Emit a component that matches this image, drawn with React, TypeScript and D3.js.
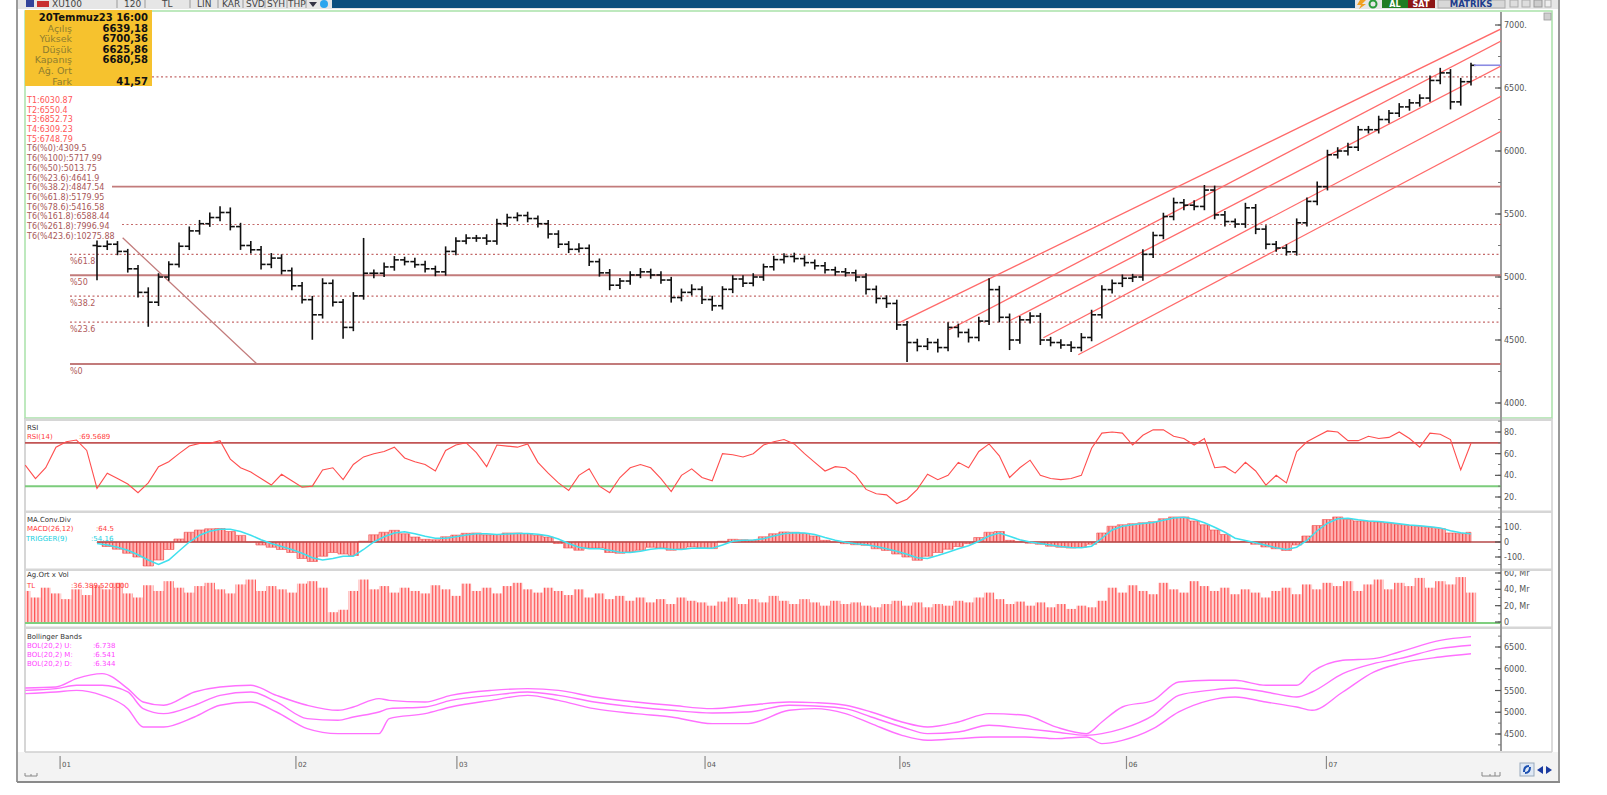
import React from "react";
import * as d3 from "d3";

// ---------- DATA ----------
const firstOpen = 5250;
const closes = [
  5244, 5260, 5203, 5065, 4878, 4800, 5000, 5100, 5244, 5366,
  5423, 5472, 5512, 5400, 5250, 5216, 5100, 5150, 5050, 4930,
  4820, 4700, 4950, 4800, 4600, 4850, 5030, 5030, 5080, 5136,
  5122, 5098, 5065, 5041, 5203, 5285, 5309, 5309, 5285, 5423,
  5472, 5488, 5464, 5423, 5341, 5260, 5220, 5228, 5122, 5033,
  4935, 4968, 5016, 5041, 5016, 4976, 4837, 4878, 4902, 4821,
  4772, 4902, 4984, 4951, 5000, 5081, 5138, 5163, 5146, 5114,
  5089, 5057, 5041, 5033, 5000, 4902, 4830, 4790, 4620, 4480,
  4450, 4480, 4440, 4600, 4560, 4520, 4650, 4900, 4680, 4500,
  4660, 4690, 4500, 4480, 4460, 4440, 4520, 4700, 4900, 4950,
  4990, 5000, 5180, 5330, 5480, 5590, 5570, 5560, 5690, 5493,
  5440, 5420, 5549, 5380, 5260, 5230, 5200, 5430, 5600, 5717,
  5970, 6000, 6030, 6169, 6169, 6250, 6300, 6350, 6382, 6420,
  6560, 6620, 6390, 6550, 6680,
];
const wickHi = [
  40, 30, 25, 20, 30, 40, 30, 25, 30, 35,
  30, 40, 50, 40, 30, 35, 30, 40, 30, 25,
  30, 30, 40, 30, 25, 30, 280, 30, 35, 30,
  25, 30, 30, 25, 40, 30, 30, 25, 30, 40,
  30, 25, 30, 25, 30, 30, 25, 40, 30, 25,
  30, 25, 30, 30, 25, 30, 25, 30, 40, 25,
  30, 25, 30, 30, 30, 25, 30, 25, 30, 25,
  25, 30, 25, 30, 25, 30, 30, 25, 30, 30,
  30, 35, 30, 40, 30, 30, 35, 90, 30, 30,
  30, 30, 25, 25, 25, 30, 35, 40, 35, 30,
  30, 25, 40, 30, 30, 40, 30, 40, 40, 35,
  30, 25, 40, 30, 30, 25, 30, 35, 30, 40,
  40, 30, 35, 30, 30, 30, 25, 30, 30, 30,
  40, 40, 30, 30, 20,
];
const wickLo = [
  270, 30, 30, 30, 40, 195, 30, 30, 25, 30,
  30, 25, 30, 30, 35, 30, 40, 30, 30, 35,
  30, 198, 30, 35, 90, 30, 30, 40, 30, 30,
  30, 25, 30, 35, 30, 30, 25, 30, 30, 30,
  25, 30, 30, 30, 35, 30, 30, 25, 35, 30,
  40, 30, 30, 25, 30, 30, 40, 30, 25, 35,
  40, 30, 30, 30, 25, 30, 30, 30, 30, 30,
  30, 30, 30, 30, 35, 40, 40, 35, 40, 155,
  40, 30, 40, 30, 40, 40, 30, 30, 40, 80,
  30, 30, 40, 30, 30, 35, 30, 30, 30, 30,
  30, 30, 30, 30, 30, 30, 40, 30, 30, 35,
  40, 30, 30, 40, 40, 30, 30, 30, 30, 30,
  30, 30, 35, 30, 30, 30, 30, 30, 30, 30,
  30, 30, 60, 30, 30,
];

// lower panels start 7 bars before the first price bar
const lowerStart = -7;
const rsi = [
  49.5, 37, 47, 66, 71, 72.6, 63,
  28, 42, 37, 32, 24, 33, 48, 52.6, 60, 67,
  69.5, 69.5, 72, 55, 47, 43, 37, 31, 41, 35,
  29, 30, 45, 47, 36, 50, 57, 60, 62, 66,
  56, 52.6, 50, 44, 63, 68, 70, 61, 48, 68,
  67, 66, 69, 52, 42, 33, 26, 40, 46, 30,
  24, 38, 47, 50, 47, 37, 25, 40, 46, 38,
  35, 60, 59, 57, 60, 68, 71, 73, 69, 60,
  52, 44, 48, 47, 40, 27, 23, 22, 14, 18,
  27, 41, 36, 40, 52, 47, 62, 69, 58, 38,
  47, 54, 40, 37, 36, 37, 40, 65, 79, 80,
  79, 68, 77, 82, 82, 76, 74, 68, 74, 47,
  48, 42, 52, 44, 31, 40, 33, 62, 71, 76,
  81, 80, 72, 72, 76, 74, 75, 80, 74, 66,
  79, 78, 73, 45, 69.57,
];
const macd = [
  -5, -30, -48, -75, -100, -160, -120, -50, 20, 65,
  80, 88, 90, 70, 44, 0, -20, -35, -50, -70,
  -110, -130, -95, -70, -80, -90, 5, 48, 65, 78,
  55, 33, 18, 15, 35, 46, 58, 60, 48, 50,
  60, 60, 56, 45, 33, -10, -40, -55, -40, -40,
  -70, -75, -65, -55, -35, -40, -55, -45, -33, -40,
  -44, 5, 18, 15, 12, 35, 55, 67, 65, 57,
  40, 11, 0, -11, -18, -22, -45, -56, -80, -100,
  -122, -95, -70, -48, -30, -11, 30, 65, 70, 11,
  2, -8, -15, -28, -35, -40, -35, -15, 60, 105,
  115, 122, 128, 135, 155, 167, 167, 140, 115, 80,
  50, 0, 3, -15, -33, -45, -56, -20, 40, 110,
  150, 167, 150, 140, 138, 133, 125, 116, 110, 104,
  98, 89, 60, 56, 64.5,
];
const trigger = [
  -10, -20, -35, -55, -85, -120, -150, -120, -60, 0,
  45, 72, 85, 85, 70, 45, 15, -10, -30, -50,
  -75, -105, -120, -110, -95, -95, -50, 0, 35, 60,
  68, 55, 38, 25, 25, 35, 46, 55, 55, 50,
  53, 57, 57, 52, 42, 20, -10, -35, -45, -45,
  -55, -68, -70, -62, -48, -42, -48, -50, -42, -40,
  -42, -20, 5, 12, 13, 22, 40, 55, 62, 60,
  50, 30, 12, -2, -12, -18, -30, -45, -62, -82,
  -105, -110, -90, -68, -45, -25, 5, 40, 60, 38,
  15, 0, -10, -20, -30, -37, -38, -28, 25, 80,
  105, 115, 124, 130, 145, 160, 165, 152, 128, 98,
  65, 25, 10, -5, -22, -38, -50, -35, 10, 75,
  125, 155, 158, 148, 140, 136, 130, 122, 114, 108,
  101, 94, 75, 62, 54.16,
];
const volume = [
  38, 30, 42, 35, 28, 40, 33,
  45, 40, 48, 35, 30, 45, 38, 50, 42, 36,
  44, 48, 40, 35, 46, 52, 38, 44, 40, 36,
  47, 50, 42, 12, 15, 38, 52, 40, 44, 36,
  42, 38, 35, 45, 40, 32, 47, 38, 42, 35,
  44, 48, 40, 36, 42, 38, 33, 40, 30, 35,
  28, 32, 26, 30, 24, 28, 22, 30, 26, 24,
  20, 25, 30, 22, 28, 24, 32, 26, 22, 28,
  24, 20, 26, 22, 24, 20, 18, 22, 26, 20,
  24, 18, 22, 20, 26, 24, 30, 36, 28, 22,
  25, 20, 24, 18, 22, 16, 20, 18, 26, 42,
  36, 45, 38, 34, 48, 40, 36, 50, 44, 38,
  42, 34, 40, 36, 30, 38, 42, 34, 46, 40,
  48, 44, 50, 38, 46, 52, 40, 48, 44, 54,
  42, 50, 46, 55, 36,
];
const bolT = [
  -7, -4, -2, 0.5, 3, 4.5, 6.5, 9.5, 12, 15,
  17.5, 20.5, 23.5, 25, 27.5, 28.5, 32, 34.5, 38.5, 42,
  45, 48.5, 52.5, 56, 60, 63.5, 67.5, 70, 73, 75.5,
  78.5, 81, 84, 87, 90.5, 93.5, 96.5, 98, 100, 103,
  105.5, 108.5, 111, 114, 117, 118.5, 121.5, 124.5, 127, 131,
  134,
];
const bolU = [
  5558, 5581, 5772, 5887, 5543, 5236, 5160, 5466, 5581, 5619,
  5389, 5160, 5045, 5121, 5313, 5274, 5236, 5389, 5504, 5543,
  5504, 5351, 5236, 5160, 5083, 5160, 5236, 5221, 5160, 5006,
  4777, 4662, 4777, 4968, 4930, 4662, 4508, 4777, 5121, 5274,
  5696, 5734, 5734, 5619, 5619, 5925, 6194, 6232, 6385, 6653,
  6738,
];
const bolM = [
  5504, 5543, 5619, 5619, 5466, 5083, 4968, 5160, 5389, 5466,
  5236, 4853, 4815, 4891, 5006, 5083, 5121, 5274, 5389, 5466,
  5389, 5236, 5121, 5045, 4984, 5006, 5160, 5144, 5083, 4891,
  4662, 4508, 4547, 4700, 4623, 4547, 4470, 4508, 4623, 4930,
  5389, 5504, 5558, 5466, 5351, 5466, 5887, 6117, 6232, 6462,
  6541,
];
const bolD = [
  5428, 5466, 5504, 5389, 5083, 4662, 4662, 4891, 5160, 5236,
  5006, 4623, 4508, 4508, 4508, 4853, 4968, 5121, 5274, 5389,
  5274, 5083, 4968, 4891, 4738, 4738, 5045, 5083, 4968, 4738,
  4470, 4355, 4393, 4432, 4432, 4393, 4432, 4279, 4355, 4623,
  5006, 5274, 5351, 5236, 5121, 5045, 5466, 5925, 6117, 6270,
  6344,
];

// trend lines (T3, T5, T2, T4, T1): start bar, start value, value at last bar
const channelStartIdx = [78.3, 83.1, 89, 92.3, 95.7];
const channelStartVal = [4640, 4581, 4653, 4518, 4383];
const channelEndVal = [6852.73, 6748.79, 6550.4, 6309.23, 6030.87];
const diagStart = { idx: 2.5, val: 5311 };
const diagEnd = { idx: 15.6, val: 4309.5 };

const fibNames = ["%0", "%23.6", "%38.2", "%50", "%61.8", "%78.6", "%100", "%161.8"];
const fibValues = [4309.5, 4641.9, 4847.54, 5013.75, 5179.95, 5416.58, 5717.99, 6588.44];
const fibShownLabels = ["%61.8", "%50", "%38.2", "%23.6", "%0"];

const tLabels = [
  "T1:6030.87", "T2:6550.4", "T3:6852.73", "T4:6309.23", "T5:6748.79",
  "T6(%0):4309.5", "T6(%100):5717.99", "T6(%50):5013.75", "T6(%23.6):4641.9",
  "T6(%38.2):4847.54", "T6(%61.8):5179.95", "T6(%78.6):5416.58",
  "T6(%161.8):6588.44", "T6(%261.8):7996.94", "T6(%423.6):10275.88",
];
const infoTitle = "20Temmuz23 16:00";
const infoLabels = ["Açılış", "Yüksek", "Düşük", "Kapanış", "Ağ. Ort", "Fark"];
const infoValues = ["6639,18", "6700,36", "6625,86", "6680,58", "", "41,57"];
const lastClose = 6680.58;

const monthLabels = ["01", "02", "03", "04", "05", "06", "07"];
const monthIdx = [-3.6, 19.4, 35.1, 59.3, 78.3, 100.4, 119.9];

const priceTicks = [4000, 4500, 5000, 5500, 6000, 6500, 7000];
const rsiTicks = [20, 40, 60, 80];
const macdTicks = [-100, 0, 100];
const volTicks = [0, 20, 40, 60];
const bolTicks = [4500, 5000, 5500, 6000, 6500];

const toolbarItems = ["XU100", "120", "TL", "LIN", "KAR", "SVD", "SYH", "THP"];

const FONT = "DejaVu Sans, Verdana, sans-serif";

export default function App() {
  const AX = 1501; // right axis x
  const LEFT = 25;
  const RIGHT = 1552;
  const x = d3.scaleLinear().domain([0, 134]).range([97, 1471]);
  const slot = x(1) - x(0);
  const yMain = d3.scaleLinear().domain([4000, 7000]).range([403, 25]);
  const yRsi = d3.scaleLinear().domain([20, 80]).range([497, 432]);
  const yMacd = d3.scaleLinear().domain([-100, 100]).range([557, 527]);
  const yVol = d3.scaleLinear().domain([0, 60]).range([622, 573]);
  const yBol = d3.scaleLinear().domain([4500, 6500]).range([734, 647]);

  const panels = {
    main: [12, 418],
    rsi: [420, 510],
    macd: [513, 568],
    vol: [571, 626],
    bol: [629, 751],
  } as Record<string, number[]>;

  const rsiLine = d3.line<number>().x((_, j) => x(j + lowerStart)).y((d) => yRsi(d));
  const trigLine = d3.line<number>().x((_, i) => x(i)).y((d) => yMacd(d));
  const macdArea = d3
    .area<number>()
    .x((_, i) => x(i))
    .y0(yMacd(0))
    .y1((d) => yMacd(d))
    .curve(d3.curveStep);
  const bolLine = (arr: number[]) =>
    d3
      .line<number>()
      .x((_, k) => x(bolT[k]))
      .y((d) => yBol(d))
      .curve(d3.curveMonotoneX)(arr) || "";

  const axisEndIdx = x.invert(AX);

  const fibStartX = (name: string) => {
    if (name === "%161.8") return 152;
    if (name === "%100") return 112;
    if (name === "%78.6") return 122;
    return 70;
  };
  const fibSolid = (name: string) => name === "%0" || name === "%50" || name === "%100";

  const axisTicks = (
    ticks: number[],
    scale: d3.ScaleLinear<number, number>,
    minorStep: number,
    fmt: (v: number) => string,
    key: string
  ) => {
    const [d0, d1] = scale.domain();
    const lo = d0 - minorStep * 4;
    const hi = d1 + minorStep * 4;
    const minors = d3.range(Math.ceil(lo / minorStep) * minorStep, hi + 0.001, minorStep);
    return (
      <g key={key}>
        {minors.map((v) => (
          <line key={"m" + v} x1={AX - 3} x2={AX} y1={scale(v)} y2={scale(v)} stroke="#777" strokeWidth={1} />
        ))}
        {ticks.map((v) => (
          <g key={"t" + v}>
            <line x1={AX - 6} x2={AX} y1={scale(v)} y2={scale(v)} stroke="#555" strokeWidth={1.2} />
            <text x={AX + 3} y={scale(v) + 3} fontSize={8} fill="#555" fontFamily={FONT}>
              {fmt(v)}
            </text>
          </g>
        ))}
      </g>
    );
  };

  return (
    <svg
      width={1607}
      height={795}
      style={{ position: "absolute", left: 0, top: 0, background: "#fff" }}
      fontFamily={FONT}
    >
      <defs>
        {Object.entries(panels).map(([k, [t, b]]) => (
          <clipPath id={"clip-" + k} key={k}>
            <rect x={LEFT} y={t} width={AX - LEFT} height={b - t} />
          </clipPath>
        ))}
        {Object.entries(panels).map(([k, [t, b]]) => (
          <clipPath id={"clipax-" + k} key={"a" + k}>
            <rect x={AX - 10} y={t} width={RIGHT - AX + 10} height={b - t} />
          </clipPath>
        ))}
        <pattern id="hatch" width={3.4} height={10} patternUnits="userSpaceOnUse">
          <rect width={3.4} height={10} fill="#ffb4b4" />
          <rect width={1.1} height={10} fill="#f04848" />
        </pattern>
        <pattern id="volhatch" width={3.4} height={10} patternUnits="userSpaceOnUse">
          <rect width={3.4} height={10} fill="#ffd6d6" />
          <rect width={1.2} height={10} fill="#ff4f4f" />
        </pattern>
      </defs>

      {/* window frame */}
      <rect x={17} y={0} width={1542} height={782} fill="#fff" />
      <line x1={17} x2={17} y1={0} y2={782} stroke="#9a9a9a" strokeWidth={2} />
      <line x1={1559} x2={1559} y1={0} y2={782} stroke="#9a9a9a" strokeWidth={2} />
      <line x1={17} x2={1560} y1={782} y2={782} stroke="#8a8a8a" strokeWidth={2} />

      {/* toolbar */}
      <rect x={18} y={0} width={1540} height={9} fill="#e6e6e6" />
      <rect x={26} y={0} width={8} height={7} fill="#33449a" />
      <rect x={37} y={1} width={12} height={6} fill="#c83030" />
      {[117, 145, 190, 218, 243, 265, 287, 306].map((sx) => (
        <line key={sx} x1={sx} x2={sx} y1={0} y2={8} stroke="#9a9a9a" />
      ))}
      {toolbarItems.map((t, k) => (
        <text
          key={t}
          x={[52, 124, 162, 197, 222, 246, 267, 288][k]}
          y={6.5}
          fontSize={9}
          fill="#444"
        >
          {t}
        </text>
      ))}
      <path d="M309,2 L317,2 L313,7 Z" fill="#334" />
      <circle cx={324} cy={4} r={4} fill="#2aa5ee" />
      <rect x={332} y={0} width={1023} height={8} fill="#0c4f7e" />
      <path d="M1360,0 L1366,0 L1362,4 L1366,4 L1359,9 L1361,5 L1357,5 Z" fill="#f0a020" />
      <circle cx={1373} cy={4} r={3.5} fill="none" stroke="#2a9a3a" strokeWidth={2} />
      <rect x={1382} y={0} width={26} height={8} fill="#1f7d22" />
      <text x={1395} y={7} fontSize={8} fill="#fff" fontWeight="bold" textAnchor="middle">AL</text>
      <rect x={1408} y={0} width={27} height={8} fill="#8d1616" />
      <text x={1421} y={7} fontSize={8} fill="#fff" fontWeight="bold" textAnchor="middle">SAT</text>
      <rect x={1438} y={0} width={67} height={8} fill="#d8d8d8" stroke="#aaa" />
      <text x={1471} y={7} fontSize={8.5} fill="#203c8c" fontWeight="bold" textAnchor="middle">MATRIKS</text>
      <rect x={1510} y={0} width={8} height={7} fill="#ddd" stroke="#aaa" />
      <rect x={1522} y={0} width={8} height={7} fill="#ddd" stroke="#aaa" />
      <rect x={1534} y={0} width={8} height={7} fill="#ccc" stroke="#999" />
      <rect x={1545} y={0} width={6} height={7} fill="#eee" stroke="#aaa" />

      {/* panel borders and separators */}
      <rect x={LEFT} y={11} width={RIGHT - LEFT} height={407} fill="none" stroke="#a9e2a9" strokeWidth={1.5} />
      <line x1={LEFT} x2={LEFT} y1={418} y2={752} stroke="#c8c8c8" strokeWidth={1.5} />
      <line x1={RIGHT} x2={RIGHT} y1={418} y2={752} stroke="#cfcfcf" strokeWidth={1.5} />
      {[419.5, 511.5, 569.5, 627.5].map((sy) => (
        <rect key={sy} x={LEFT} y={sy - 1} width={RIGHT - LEFT} height={2.5} fill="#d6d6d6" />
      ))}
      <rect x={RIGHT - 8} y={13} width={7} height={7} fill="#cfcfcf" stroke="#999" strokeWidth={0.8} />
      {/* right axis line */}
      <line x1={AX} x2={AX} y1={12} y2={751} stroke="#9a9a9a" strokeWidth={2} />

      {/* ---------- MAIN PANEL ---------- */}
      <g clipPath="url(#clip-main)">
        {fibNames.map((n, k) => (
          <line
            key={n}
            x1={fibStartX(n)}
            x2={AX}
            y1={yMain(fibValues[k])}
            y2={yMain(fibValues[k])}
            stroke={fibSolid(n) ? "#c27b7b" : "#c46a6a"}
            strokeWidth={fibSolid(n) ? 1.8 : 1.2}
            strokeDasharray={fibSolid(n) ? undefined : "2,2.5"}
          />
        ))}
        <line
          x1={x(diagStart.idx)}
          y1={yMain(diagStart.val)}
          x2={x(diagEnd.idx)}
          y2={yMain(diagEnd.val)}
          stroke="#c27b7b"
          strokeWidth={1.3}
        />
        {channelStartIdx.map((si, k) => {
          const slope = (channelEndVal[k] - channelStartVal[k]) / (134 - si);
          const endVal = channelEndVal[k] + slope * (axisEndIdx - 134);
          return (
            <line
              key={k}
              x1={x(si)}
              y1={yMain(channelStartVal[k])}
              x2={AX}
              y2={yMain(endVal)}
              stroke="#ff6a6a"
              strokeWidth={1.3}
            />
          );
        })}
        {closes.map((c, i) => {
          const o = i === 0 ? firstOpen : closes[i - 1];
          const hi = Math.max(o, c) + wickHi[i];
          const lo = Math.min(o, c) - wickLo[i];
          const cx = x(i);
          return (
            <g key={i} stroke="#101010" strokeWidth={1.6}>
              <line x1={cx} x2={cx} y1={yMain(hi)} y2={yMain(lo)} />
              <line x1={cx - 4.5} x2={cx} y1={yMain(o)} y2={yMain(o)} />
              <line x1={cx} x2={cx + 4.5} y1={yMain(c)} y2={yMain(c)} />
            </g>
          );
        })}
        <line
          x1={x(134) + 3}
          x2={AX}
          y1={yMain(lastClose)}
          y2={yMain(lastClose)}
          stroke="#8b8be3"
          strokeWidth={1.6}
        />
      </g>
      {fibNames
        .map((n, k) => ({ n, v: fibValues[k] }))
        .filter((d) => fibShownLabels.includes(d.n))
        .map((d) => (
          <text key={d.n} x={70} y={yMain(d.v) + 10} fontSize={8} fill="#b05a5a">
            {d.n}
          </text>
        ))}
      <g clipPath="url(#clipax-main)">
        {axisTicks(priceTicks, yMain, 250, (v) => v + ".", "pa")}
      </g>

      {/* info box */}
      <rect x={25} y={10} width={127} height={76} fill="#f6c22e" />
      <text x={148} y={20.5} fontSize={10} fontWeight="bold" textAnchor="end" fill="#111">
        {infoTitle}
      </text>
      {infoLabels.map((l, k) => (
        <g key={l}>
          <text x={72} y={31.5 + k * 10.6} fontSize={9.5} textAnchor="end" fill="#8f7d2e">
            {l}
          </text>
          <text x={148} y={31.5 + k * 10.6} fontSize={10} fontWeight="bold" textAnchor="end" fill="#111">
            {infoValues[k]}
          </text>
        </g>
      ))}
      {tLabels.map((t, k) => (
        <text key={t} x={27} y={103 + k * 9.69} fontSize={8} fill={k < 5 ? "#ff5656" : "#a85858"}>
          {t}
        </text>
      ))}

      {/* ---------- RSI ---------- */}
      <g clipPath="url(#clip-rsi)">
        <line x1={LEFT} x2={AX} y1={yRsi(70)} y2={yRsi(70)} stroke="#c25555" strokeWidth={1.8} />
        <line x1={LEFT} x2={AX} y1={yRsi(30)} y2={yRsi(30)} stroke="#7ccc7c" strokeWidth={2} />
        <path d={rsiLine(rsi) || ""} fill="none" stroke="#ff4e4e" strokeWidth={1.1} />
      </g>
      <text x={27} y={429.5} fontSize={7} fill="#333">RSI</text>
      <text x={27} y={438.5} fontSize={7} fill="#ff4040">RSI(14)</text>
      <text x={79} y={438.5} fontSize={7} fill="#ff4040">:69.5689</text>
      <g clipPath="url(#clipax-rsi)">{axisTicks(rsiTicks, yRsi, 10, (v) => v + ".", "ra")}</g>

      {/* ---------- MACD ---------- */}
      <g clipPath="url(#clip-macd)">
        <path d={macdArea(macd) || ""} fill="url(#hatch)" stroke="#f05050" strokeWidth={0.6} />
        <line x1={x(0)} x2={AX} y1={yMacd(0)} y2={yMacd(0)} stroke="#b54848" strokeWidth={1.5} />
        <path d={trigLine(trigger) || ""} fill="none" stroke="#3fe0ee" strokeWidth={1.5} />
      </g>
      <text x={27} y={521.5} fontSize={7} fill="#333">MA.Conv.Div</text>
      <text x={27} y={530.5} fontSize={7} fill="#ff3a3a">MACD(26,12)</text>
      <text x={96} y={530.5} fontSize={7} fill="#ff3a3a">:64.5</text>
      <text x={26} y={540.5} fontSize={7} fill="#22d0e0">TRIGGER(9)</text>
      <text x={91} y={540.5} fontSize={7} fill="#22d0e0">:54.16</text>
      <g clipPath="url(#clipax-macd)">
        {axisTicks(macdTicks, yMacd, 50, (v) => (v === 0 ? "0" : v + "."), "ma")}
      </g>

      {/* ---------- VOLUME ---------- */}
      <g clipPath="url(#clip-vol)">
        {volume.map((v, j) => {
          const cx = x(j + lowerStart);
          return (
            <rect
              key={j}
              x={cx - slot / 2}
              y={yVol(v)}
              width={slot}
              height={yVol(0) - yVol(v)}
              fill="url(#volhatch)"
            />
          );
        })}
        <line x1={LEFT} x2={AX} y1={yVol(0) + 1} y2={yVol(0) + 1} stroke="#7fcf7f" strokeWidth={2} />
      </g>
      <text x={27} y={576.5} fontSize={7} fill="#333">Ag.Ort x Vol</text>
      <text x={27} y={587.5} fontSize={7} fill="#ff3a3a">TL</text>
      <text x={71} y={587.5} fontSize={7} fill="#ff3a3a">:36.389.520.000</text>
      <g clipPath="url(#clipax-vol)">
        {axisTicks(volTicks, yVol, 10, (v) => (v === 0 ? "0" : v + ", Mr"), "va")}
      </g>

      {/* ---------- BOLLINGER ---------- */}
      <g clipPath="url(#clip-bol)" fill="none" stroke="#ff70ff" strokeWidth={1.4}>
        <path d={bolLine(bolU)} />
        <path d={bolLine(bolM)} />
        <path d={bolLine(bolD)} />
      </g>
      <text x={27} y={638.5} fontSize={7} fill="#333">Bollinger Bands</text>
      {[
        ["BOL(20,2) U:", ":6.738"],
        ["BOL(20,2) M:", ":6.541"],
        ["BOL(20,2) D:", ":6.344"],
      ].map((p, k) => (
        <g key={p[0]}>
          <text x={27} y={647.5 + k * 9} fontSize={7} fill="#ff44ff">{p[0]}</text>
          <text x={93} y={647.5 + k * 9} fontSize={7} fill="#ff44ff">{p[1]}</text>
        </g>
      ))}
      <g clipPath="url(#clipax-bol)">{axisTicks(bolTicks, yBol, 250, (v) => v + ".", "ba")}</g>

      {/* ---------- TIME AXIS ---------- */}
      <rect x={18} y={752} width={1540} height={29} fill="#f3f3f3" />
      <line x1={LEFT} x2={RIGHT} y1={752} y2={752} stroke="#cfcfcf" strokeWidth={1.5} />
      {monthLabels.map((m, k) => (
        <g key={m}>
          <line x1={x(monthIdx[k])} x2={x(monthIdx[k])} y1={756} y2={769} stroke="#8a8a8a" strokeWidth={1.2} />
          <text x={x(monthIdx[k]) + 2} y={767} fontSize={7} fill="#555">{m}</text>
        </g>
      ))}
      <path d="M25,773 L25,776 L37,776 L37,773 M31,774 L31,776" stroke="#888" fill="none" />
      <path d="M1482,772 L1482,776 L1500,776 L1500,772 M1490,774 L1490,776 M1495,772 L1495,776" stroke="#888" fill="none" />
      <rect x={1520} y={763} width={14} height={13} fill="#dfe8f5" stroke="#9ab" />
      <path d="M1524,772 Q1524,766 1529,766 M1530,767 Q1530,773 1525,773" stroke="#1a4fb0" strokeWidth={2} fill="none" />
      <path d="M1543,766 L1537,770 L1543,774 Z" fill="#1a3aa0" />
      <path d="M1546,766 L1552,770 L1546,774 Z" fill="#1a3aa0" />
    </svg>
  );
}
